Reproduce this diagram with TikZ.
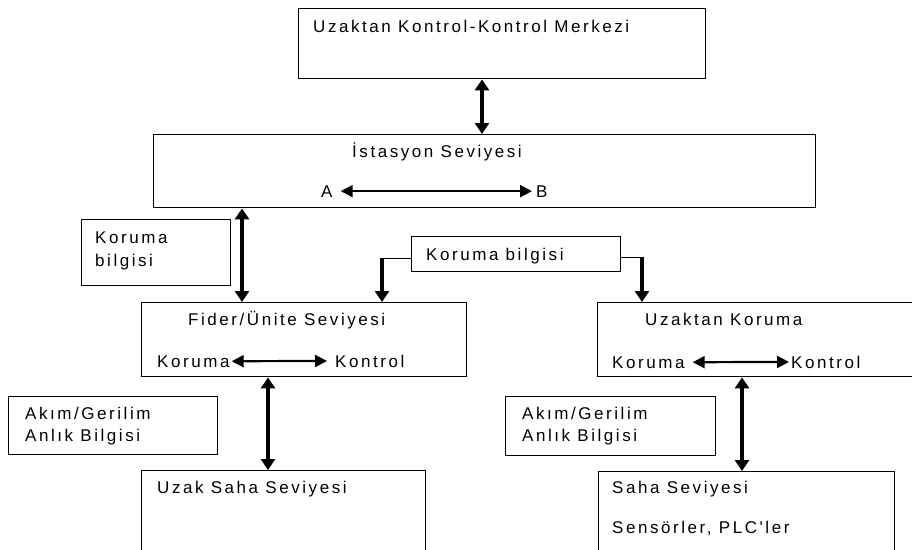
\documentclass[tikz,border=0pt]{standalone}
\usepackage{fontspec}
% own family: no TeX quote mapping, so ' stays a straight apostrophe
\newfontfamily\lbfont{Liberation Sans}[LetterSpace=15]
\usetikzlibrary{arrows.meta}

\tikzset{
  box/.style={draw, line width=1.4pt, rectangle, inner sep=0pt, anchor=north west},
  lbl/.style={anchor=base west, inner sep=0pt, font=\lbfont\fontsize{17}{23}\selectfont},
  varrow/.style={line width=3.4pt,
    {Triangle[length=11pt,width=14pt]}-{Triangle[length=11pt,width=14pt]}},
  harrow/.style={line width=2.2pt,
    {Triangle[length=12pt,width=12pt]}-{Triangle[length=12pt,width=12pt]}},
  feed/.style={line width=1.1pt},
  drop/.style={line width=3.4pt, -{Triangle[length=11pt,width=14pt]}}
}

\begin{document}
\begin{tikzpicture}[x=1pt,y=-1pt]
\useasboundingbox (0,0) rectangle (912,549);

% ---- boxes ----
\node[box, minimum width=407pt, minimum height=70pt] (top)   at (298,8)   {};
\node[box, minimum width=662pt, minimum height=73pt] (stn)   at (153,134) {};
\node[box, minimum width=149pt, minimum height=66pt] (kbl)   at (81,219)  {};
\node[box, minimum width=209pt, minimum height=35pt] (kbm)   at (411,236) {};
\node[box, minimum width=325pt, minimum height=74pt] (fider) at (141,302) {};
\node[box, minimum width=318pt, minimum height=74pt] (ukor)  at (597,302) {};
\node[box, minimum width=209pt, minimum height=58pt] (akl)   at (8,396)   {};
\node[box, minimum width=210pt, minimum height=59pt] (akr)   at (505,396) {};
\node[box, minimum width=284pt, minimum height=80pt] (uzs)   at (141,470) {};
\node[box, minimum width=296pt, minimum height=79pt] (saha)  at (598,471) {};

% ---- texts ----
\node[lbl] (tTop) at (313,32) {Uzaktan Kontrol-Kontrol Merkezi};
\node[lbl] (tStn) at (352,157.5) {İstasyon Seviyesi};
\node[lbl] (tA)   at (321,197) {A};
\node[lbl] (tB)   at (536,197) {B};

\node[lbl] (tKbl1) at (95,243) {Koruma};
\node[lbl] (tKbl2) at (95,266.5) {bilgisi};
\node[lbl] (tKbm)  at (426,260) {Koruma bilgisi};

\node[lbl] (tFid)  at (188,325) {Fider/Ünite Seviyesi};
\node[lbl] (tFk)   at (157,367) {Koruma};
\node[lbl] (tFc)   at (335,367) {Kontrol};

\node[lbl] (tUk)   at (645,325) {Uzaktan Koruma};
\node[lbl] (tUkk)  at (612,368) {Koruma};
\node[lbl] (tUkc)  at (791,368) {Kontrol};

\node[lbl] (tAkl1) at (25,419) {Akım/Gerilim};
\node[lbl] (tAkl2) at (25,441) {Anlık Bilgisi};
\node[lbl] (tAkr1) at (522,419) {Akım/Gerilim};
\node[lbl] (tAkr2) at (522,441) {Anlık Bilgisi};

\node[lbl] (tUzs)  at (157,493) {Uzak Saha Seviyesi};
\node[lbl] (tSh1)  at (612,493) {Saha Seviyesi};
\node[lbl] (tSh2)  at (612,533) {Sensörler, PLC'ler};

% ---- vertical link columns ----
\coordinate (xTop)  at (482,0);
\coordinate (xStn)  at (242,0);
\coordinate (xFid)  at (268,0);
\coordinate (xUk)   at (742,0);
\coordinate (xDrL)  at (382,0);
\coordinate (xDrR)  at (642,0);

% ---- level links ----
\draw[varrow] (top.south -| xTop)  -- (stn.north -| xTop);
\draw[varrow] (stn.south -| xStn)  -- (fider.north -| xStn);
\draw[varrow] (fider.south -| xFid) -- (uzs.north -| xFid);
\draw[varrow] (ukor.south -| xUk)  -- (saha.north -| xUk);

% ---- inner exchanges ----
\draw[harrow, shorten <=8pt, shorten >=4pt] (tA.east) -- (tB.west);
\draw[harrow, shorten <=2pt, shorten >=8pt] (tFk.east) -- (tFc.west);
\draw[harrow, shorten <=8pt, shorten >=2pt] (tUkk.east) -- (tUkc.west);

% ---- protection info feeds ----
\coordinate (cL) at ([yshift=-4pt]kbm.west -| xDrL);
\coordinate (cR) at ([yshift=-3pt]kbm.east -| xDrR);
\draw[feed] ([yshift=-4pt]kbm.west) -- (cL);
\draw[drop] ([yshift=0.55pt]cL) -- (fider.north -| cL);
\draw[feed] ([yshift=-3pt]kbm.east) -- (cR);
\draw[drop] ([yshift=0.55pt]cR) -- (ukor.north -| cR);
\end{tikzpicture}
\end{document}
